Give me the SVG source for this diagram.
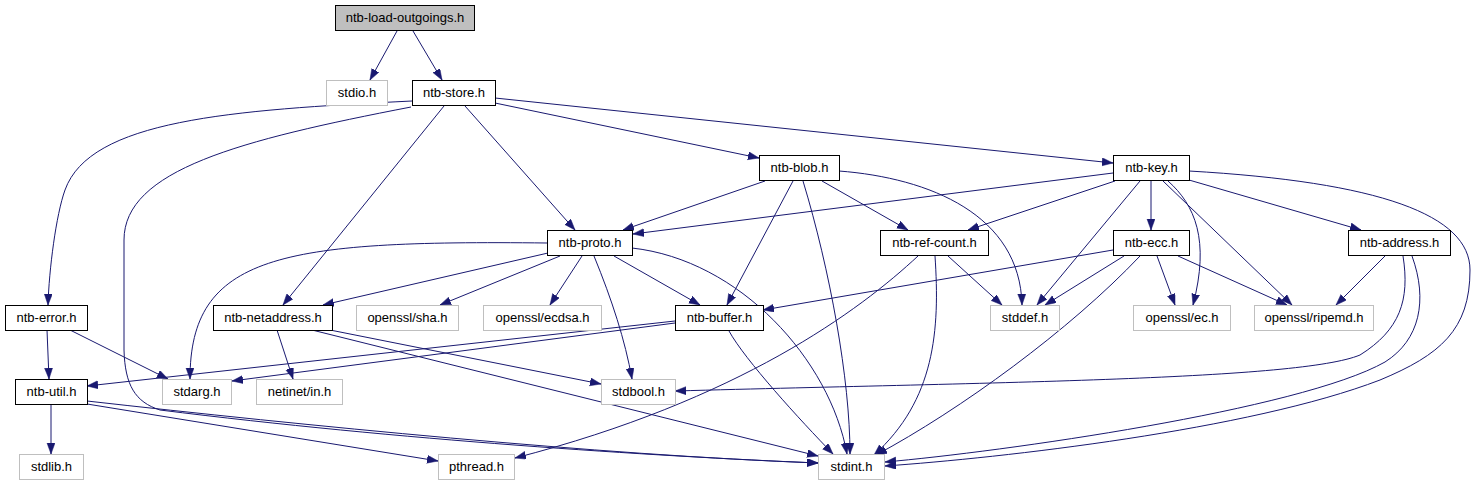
<svg xmlns="http://www.w3.org/2000/svg" width="1475" height="485" viewBox="0 0 1475 485">
<style>
.n rect{fill:#fff;stroke:#000;stroke-width:1}
.x rect{fill:#fff;stroke:#bfbfbf;stroke-width:1}
.r rect{fill:#bfbfbf;stroke:#000;stroke-width:1}
text{font-family:"Liberation Sans",Arial,Helvetica,sans-serif;font-size:13px;fill:#000;text-anchor:middle}
#edges path{fill:none;stroke:#191970;stroke-width:1;marker-end:url(#ah)}
</style>
<defs>
<marker id="ah" markerUnits="userSpaceOnUse" markerWidth="12" markerHeight="9" refX="11" refY="4" orient="auto">
<path d="M0,0 L11,4 L0,8 z" fill="#191970" stroke="#191970" stroke-width="0.5"/>
</marker>
</defs>
<rect width="1475" height="485" fill="#fff"/>
<g id="edges">
<path d="M397,31 L370,80"/>
<path d="M413,31 L442,80"/>
<path d="M412,101 C230,110 90,120 65,190 C56,215 49,270 48,305"/>
<path d="M411,107 C240,140 124,170 124,240 L124,350 C125,385 135,402 160,410 C400,440 650,456 818,463"/>
<path d="M87,401 C300,425 600,455 818,463"/>
<path d="M87,404 L438,461"/>
<path d="M51,404 L51,454"/>
<path d="M444,106 L283,305"/>
<path d="M465,106 L575,230"/>
<path d="M495,103 L759,158"/>
<path d="M495,98 L1113,163"/>
<path d="M765,181 L623,230"/>
<path d="M793,181 L727,305"/>
<path d="M803,181 C830,270 850,380 850,454"/>
<path d="M822,181 L908,230"/>
<path d="M839,171 C930,178 1020,215 1022,305"/>
<path d="M1113,173 L633,234"/>
<path d="M1115,181 L968,230"/>
<path d="M1140,181 L1037,305"/>
<path d="M1151,181 L1151,230"/>
<path d="M1168,181 C1195,205 1210,240 1193,305"/>
<path d="M1163,181 L1292,305"/>
<path d="M1189,180 L1361,230"/>
<path d="M1189,171 C1380,182 1470,215 1470,270 C1470,330 1440,355 1380,380 C1250,430 1000,458 885,466"/>
<path d="M1113,250 L763,310"/>
<path d="M1124,256 L1045,305"/>
<path d="M1140,256 C1070,330 960,410 876,455"/>
<path d="M1157,256 L1175,305"/>
<path d="M1178,256 L1287,305"/>
<path d="M1385,256 L1336,305"/>
<path d="M1403,256 C1410,300 1400,330 1360,355 C1300,380 1000,382 675,391"/>
<path d="M1412,256 C1428,300 1420,340 1385,362 C1300,410 1000,452 885,462"/>
<path d="M918,256 C860,310 740,400 515,458"/>
<path d="M948,256 L1002,305"/>
<path d="M935,256 C940,330 935,400 874,455"/>
<path d="M548,253 L323,305"/>
<path d="M547,243 C280,240 190,255 190,379"/>
<path d="M560,256 L440,305"/>
<path d="M582,256 L550,305"/>
<path d="M594,256 C612,300 625,340 632,379"/>
<path d="M614,256 L700,305"/>
<path d="M632,248 C740,260 830,360 847,454"/>
<path d="M675,321 L87,386"/>
<path d="M675,323 L232,381"/>
<path d="M729,331 C745,360 800,420 833,454"/>
<path d="M277,330 L293,379"/>
<path d="M330,330 L601,384"/>
<path d="M312,330 L818,456"/>
<path d="M47,330 L49,379"/>
<path d="M70,330 L168,379"/>
</g>
<g id="n_load" class="r"><rect x="335.5" y="5.5" width="139" height="25"/><text x="405" y="22">ntb-load-outgoings.h</text></g>
<g id="n_stdio" class="x"><rect x="326.5" y="80.5" width="61" height="25"/><text x="357" y="97">stdio.h</text></g>
<g id="n_store" class="n"><rect x="412.5" y="80.5" width="83" height="25"/><text x="454" y="97">ntb-store.h</text></g>
<g id="n_blob" class="n"><rect x="759.5" y="155.5" width="80" height="25"/><text x="799.5" y="172">ntb-blob.h</text></g>
<g id="n_key" class="n"><rect x="1113.5" y="155.5" width="76" height="25"/><text x="1151.5" y="172">ntb-key.h</text></g>
<g id="n_proto" class="n"><rect x="547.5" y="230.5" width="85" height="25"/><text x="590" y="247">ntb-proto.h</text></g>
<g id="n_refcount" class="n"><rect x="880.5" y="230.5" width="108" height="25"/><text x="934.5" y="247">ntb-ref-count.h</text></g>
<g id="n_ecc" class="n"><rect x="1113.5" y="230.5" width="76" height="25"/><text x="1151.5" y="247">ntb-ecc.h</text></g>
<g id="n_address" class="n"><rect x="1348.5" y="230.5" width="102" height="25"/><text x="1399.5" y="247">ntb-address.h</text></g>
<g id="n_error" class="n"><rect x="5.5" y="305.5" width="82" height="25"/><text x="46.5" y="322">ntb-error.h</text></g>
<g id="n_netaddress" class="n"><rect x="213.5" y="305.5" width="119" height="25"/><text x="273" y="322">ntb-netaddress.h</text></g>
<g id="n_sha" class="x"><rect x="356.5" y="305.5" width="102" height="25"/><text x="407.5" y="322">openssl/sha.h</text></g>
<g id="n_ecdsa" class="x"><rect x="483.5" y="305.5" width="118" height="25"/><text x="542.5" y="322">openssl/ecdsa.h</text></g>
<g id="n_buffer" class="n"><rect x="675.5" y="305.5" width="88" height="25"/><text x="719.5" y="322">ntb-buffer.h</text></g>
<g id="n_stddef" class="x"><rect x="990.5" y="305.5" width="69" height="25"/><text x="1025" y="322">stddef.h</text></g>
<g id="n_ec" class="x"><rect x="1133.5" y="305.5" width="97" height="25"/><text x="1182" y="322">openssl/ec.h</text></g>
<g id="n_ripemd" class="x"><rect x="1254.5" y="305.5" width="119" height="25"/><text x="1314" y="322">openssl/ripemd.h</text></g>
<g id="n_util" class="n"><rect x="15.5" y="379.5" width="72" height="25"/><text x="51.5" y="396">ntb-util.h</text></g>
<g id="n_stdarg" class="x"><rect x="162.5" y="379.5" width="69" height="25"/><text x="197" y="396">stdarg.h</text></g>
<g id="n_netinet" class="x"><rect x="256.5" y="379.5" width="86" height="25"/><text x="299.5" y="396">netinet/in.h</text></g>
<g id="n_stdbool" class="x"><rect x="601.5" y="379.5" width="74" height="25"/><text x="638.5" y="396">stdbool.h</text></g>
<g id="n_stdlib" class="x"><rect x="19.5" y="454.5" width="64" height="25"/><text x="51.5" y="471">stdlib.h</text></g>
<g id="n_pthread" class="x"><rect x="438.5" y="454.5" width="76" height="25"/><text x="476.5" y="471">pthread.h</text></g>
<g id="n_stdint" class="x"><rect x="818.5" y="454.5" width="66" height="25"/><text x="851.5" y="471">stdint.h</text></g>
</svg>
